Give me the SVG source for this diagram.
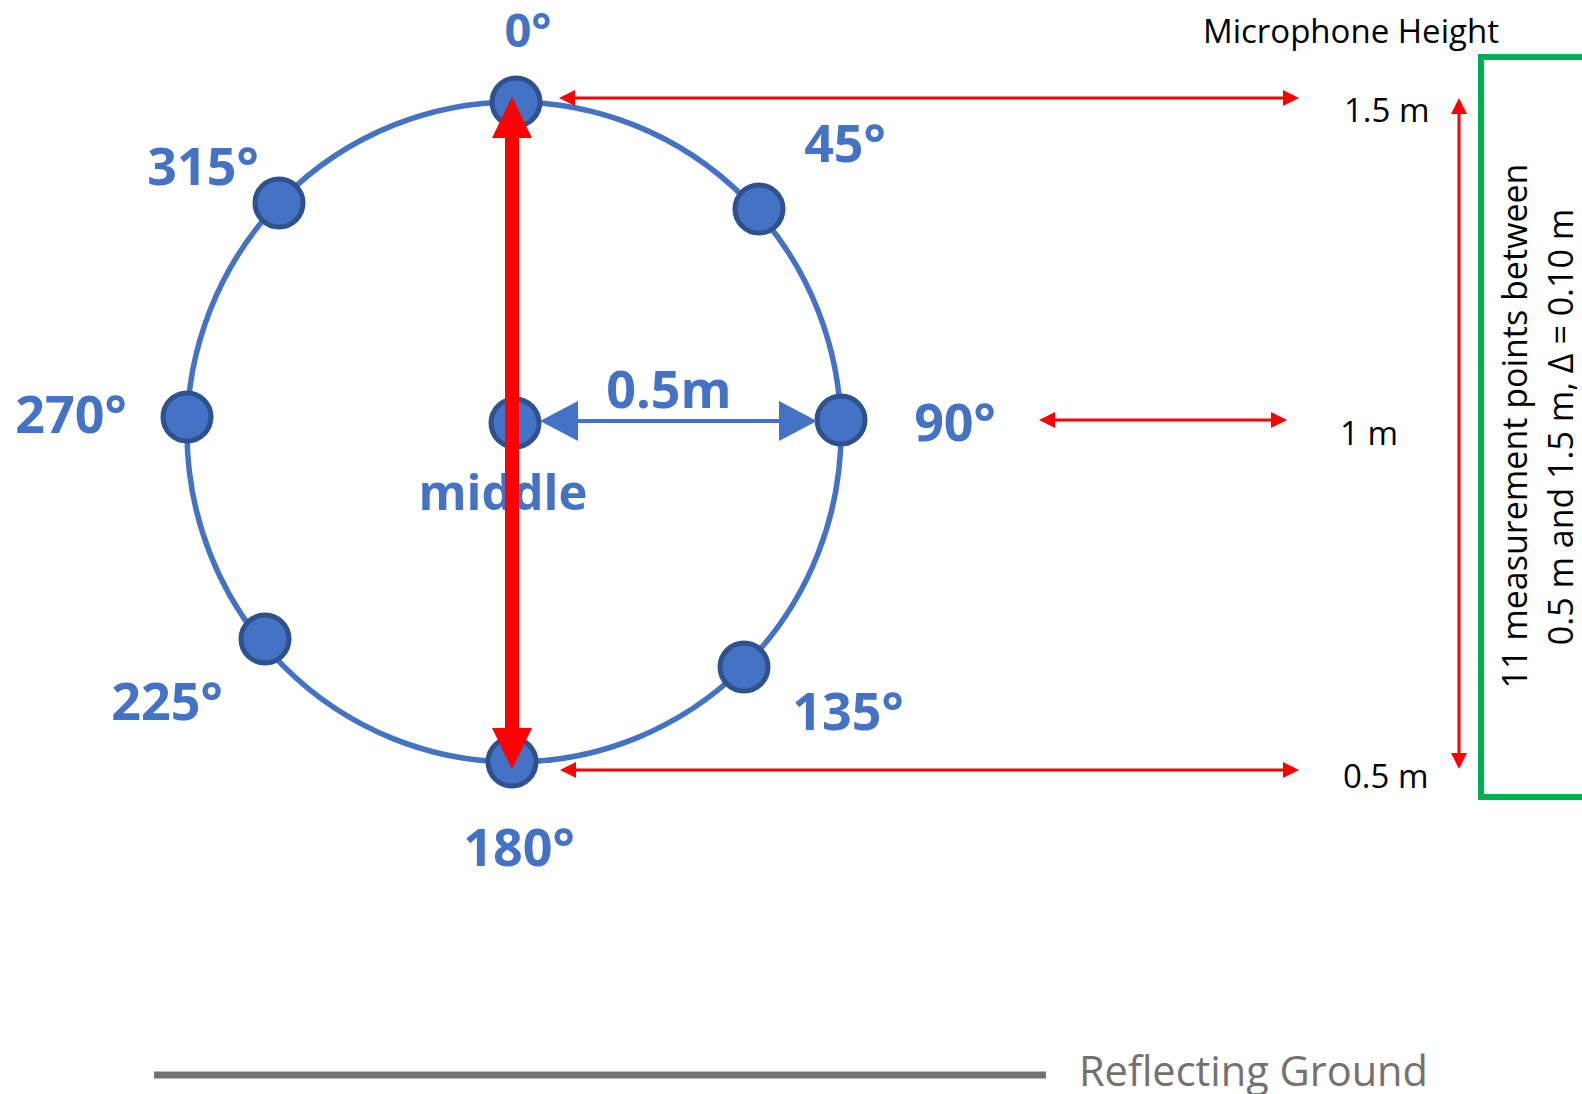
<svg xmlns="http://www.w3.org/2000/svg" width="1582" height="1094" viewBox="0 0 1582 1094">
<style>
.node{fill:#4472C4;stroke:#2F528F;stroke-width:5}
.lbl{font-family:"Open Sans","Liberation Sans",sans-serif;font-weight:700;font-size:52px;fill:#4472C4;text-anchor:middle}
.blk{font-family:"Open Sans","Liberation Sans",sans-serif;font-size:33px;fill:#000}
.red{stroke:#FF0000;fill:none}
</style>
<defs>
<marker id="bigHead" viewBox="0 0 41 40" refX="0" refY="20" markerWidth="41" markerHeight="40" markerUnits="userSpaceOnUse" orient="auto-start-reverse"><path d="M0,0 L41,20 L0,40 Z" fill="#FF0000"/></marker>
<marker id="thinHead" viewBox="0 0 16 16" refX="0" refY="8" markerWidth="16" markerHeight="16" markerUnits="userSpaceOnUse" orient="auto-start-reverse"><path d="M0,0 L16,8 L0,16 Z" fill="#FF0000"/></marker>
<marker id="blueHead" viewBox="0 0 38 40" refX="0" refY="20" markerWidth="38" markerHeight="40" markerUnits="userSpaceOnUse" orient="auto-start-reverse"><path d="M0,0 L38,20 L0,40 Z" fill="#4472C4"/></marker>
</defs>
<rect width="1582" height="1094" fill="#fff"/>
<g id="ring">
<ellipse cx="514" cy="432" rx="327" ry="330" fill="none" stroke="#4472C4" stroke-width="5.5"/>
</g>
<g id="node-0"><circle class="node" cx="516" cy="102" r="24"/><text class="lbl" x="528" y="47" style="font-size:47px">0°</text></g>
<g id="node-45"><circle class="node" cx="759" cy="209" r="24"/><text class="lbl" x="845" y="162">45°</text></g>
<g id="node-90"><circle class="node" cx="841" cy="420" r="24"/><text class="lbl" x="955" y="441">90°</text></g>
<g id="node-135"><circle class="node" cx="744" cy="667" r="24"/><text class="lbl" x="848" y="730">135°</text></g>
<g id="node-180"><circle class="node" cx="512" cy="762" r="24"/><text class="lbl" x="519" y="866">180°</text></g>
<g id="node-225"><circle class="node" cx="265" cy="639" r="24"/><text class="lbl" x="167" y="720">225°</text></g>
<g id="node-270"><circle class="node" cx="187" cy="417" r="24"/><text class="lbl" x="71" y="433">270°</text></g>
<g id="node-315"><circle class="node" cx="279" cy="203" r="24"/><text class="lbl" x="203" y="185">315°</text></g>
<g id="node-middle"><circle class="node" cx="515" cy="423" r="24"/><text class="lbl" x="503" y="510" style="font-size:49px">middle</text></g>
<g id="label-radius"><text class="lbl" x="669" y="408" style="font-size:52px">0.5m</text></g>
<g id="heights">
<text class="blk" x="1203" y="43">Microphone Height</text>
<text class="blk" x="1344" y="122">1.5 m</text>
<text class="blk" x="1340" y="445">1 m</text>
<text class="blk" x="1343" y="788">0.5 m</text>
</g>
<g id="range-box">
<rect x="1481" y="57" width="140" height="740" fill="none" stroke="#00B050" stroke-width="6"/>
<text class="blk" text-anchor="middle" style="font-size:34px" transform="translate(1527,426) rotate(-90)">11 measurement points between</text>
<text class="blk" text-anchor="middle" style="font-size:34px" transform="translate(1573,427) rotate(-90)">0.5 m and 1.5 m, Δ = 0.10 m</text>
</g>
<g id="ground">
<line x1="154" y1="1075" x2="1046" y2="1075" stroke="#767171" stroke-width="7"/>
<text x="1079" y="1086" style="font-family:'Open Sans','Liberation Sans',sans-serif;font-size:41.5px;fill:#767171">Reflecting Ground</text>
</g>
<g id="connectors">
<line x1="578" y1="421" x2="779" y2="421" stroke="#4472C4" stroke-width="4" marker-start="url(#blueHead)" marker-end="url(#blueHead)"/>
<line class="red" x1="512" y1="138" x2="512" y2="728" stroke-width="14" marker-start="url(#bigHead)" marker-end="url(#bigHead)"/>
<line class="red" x1="575" y1="98" x2="1283" y2="98" stroke-width="3" marker-start="url(#thinHead)" marker-end="url(#thinHead)"/>
<line class="red" x1="1055" y1="420" x2="1271" y2="420" stroke-width="3" marker-start="url(#thinHead)" marker-end="url(#thinHead)"/>
<line class="red" x1="576" y1="770" x2="1283" y2="770" stroke-width="3" marker-start="url(#thinHead)" marker-end="url(#thinHead)"/>
<line class="red" x1="1459" y1="114" x2="1459" y2="753" stroke-width="3" marker-start="url(#thinHead)" marker-end="url(#thinHead)"/>
</g>
</svg>
